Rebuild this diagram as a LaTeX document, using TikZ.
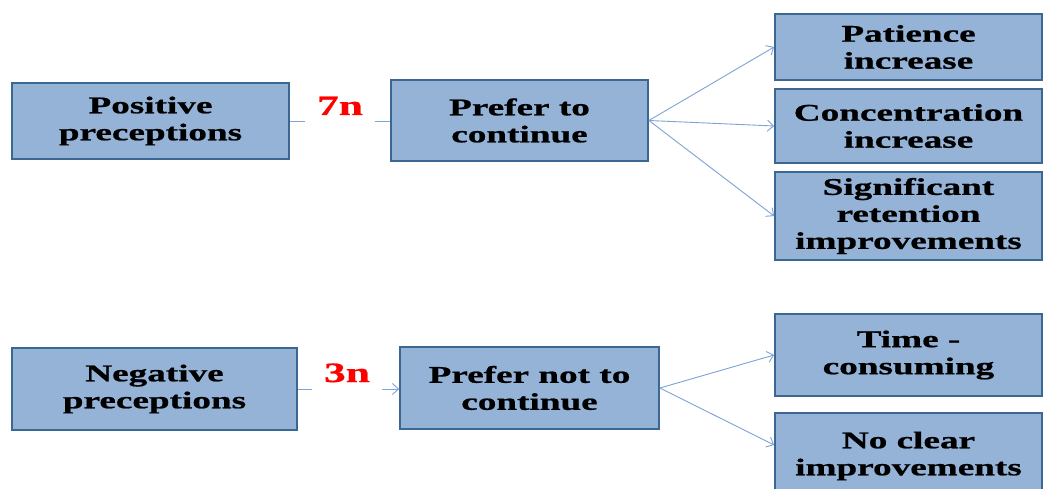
\documentclass[tikz,border=0pt]{standalone}
\usepackage{fontspec}
\setmainfont{Liberation Serif}[FakeStretch=1.55]
\newfontfamily\boxfont{Liberation Serif}[FakeStretch=1.55,FakeBold=0.8]
\usetikzlibrary{arrows.meta}
\definecolor{boxfill}{HTML}{95B3D7}
\definecolor{boxline}{HTML}{3B6792}
\definecolor{connc}{HTML}{7EA3D6}
\tikzset{
  box/.style={draw=boxline, fill=boxfill, line width=1.8pt, rectangle, align=center,
    font=\boxfont\fontsize{24}{27}\selectfont\bfseries, text=black, inner sep=0pt},
  conn/.style={draw=connc, line width=0.9pt},
  arr/.style={conn, -{Straight Barb[length=6pt,width=11pt,line width=0.9pt]}},
  gap/.style={inner sep=0pt, minimum height=0pt, text width=0pt},
  numlab/.style={text=red, font=\boxfont\fontsize{28}{30}\selectfont\bfseries, inner sep=0pt, anchor=base}
}
\begin{document}
\begin{tikzpicture}[x=1pt,y=-1pt]
\clip (0,0) rectangle (1047,489);
\fill[white] (0,0) rectangle (1047,489);
% left column
\node[box, minimum width=277pt, minimum height=76pt] (pos) at (150.5,121) {Positive\\preceptions};
\node[box, minimum width=285pt, minimum height=82pt] (neg) at (154.5,389) {Negative\\preceptions};
% middle column
\node[box, minimum width=257pt, minimum height=81pt] (cont) at (519.5,120.5) {Prefer to\\continue};
\node[box, minimum width=259pt, minimum height=82pt] (ncont) at (529.5,388) {Prefer not to\\continue};
% right column
\node[box, minimum width=267pt, minimum height=66pt] (pat) at (908.5,47) {Patience\\increase};
\node[box, minimum width=267pt, minimum height=74pt] (conc) at (908.5,126) {Concentration\\increase};
\node[box, minimum width=267pt, minimum height=88pt] (sig) at (908.5,216) {Significant\\retention\\improvements};
\node[box, minimum width=267pt, minimum height=82pt] (time) at (908.5,355) {Time -\\consuming};
\node[box, minimum width=267pt, minimum height=86pt] (nocl) at (908.5,456) {No clear\\improvements};
% gaps for the labels
\node[gap, minimum width=69pt] (g7) at (340,121) {};
\node[gap, minimum width=70pt] (g3) at (347,389) {};
\node[numlab, yshift=6pt] (l7) at (g7) {7n};
\node[numlab, yshift=7pt] (l3) at (g3) {3n};
% connectors
\draw[conn] (pos.east |- g7) -- (g7.west);
\draw[conn] (g7.east) -- (cont.west |- g7);
\draw[conn] (neg.east |- g3) -- (g3.west);
\draw[arr] (g3.east) -- (ncont.west |- g3);
\draw[arr] (cont.east) -- (pat.west);
\draw[arr] (cont.east) -- (conc.west);
\draw[arr] (cont.east) -- (sig.west);
\draw[arr] (ncont.east) -- (time.west);
\draw[arr] (ncont.east) -- ([yshift=11pt]nocl.west);
\end{tikzpicture}
\end{document}
